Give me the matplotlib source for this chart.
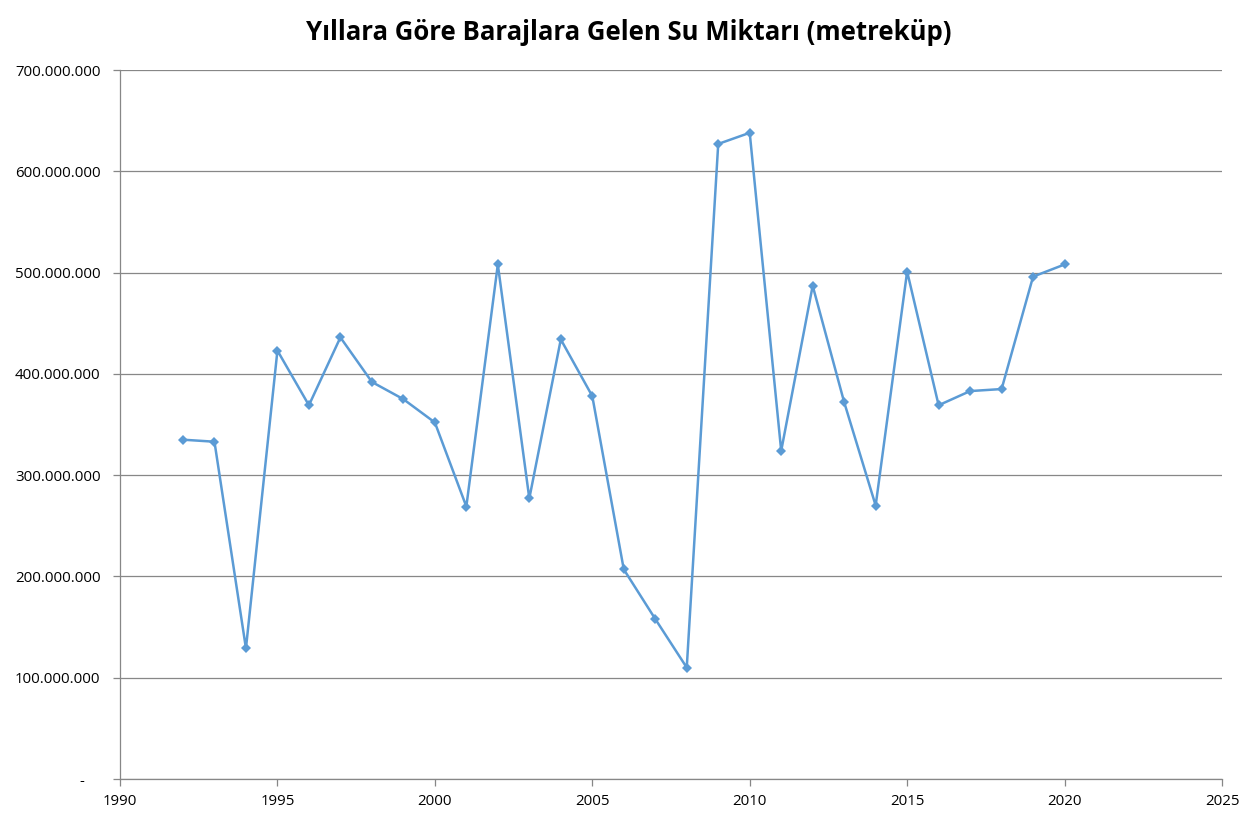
import matplotlib
matplotlib.use("Agg")
import matplotlib.pyplot as plt
from matplotlib.ticker import FuncFormatter, MultipleLocator

years = [1992, 1993, 1994, 1995, 1996, 1997, 1998, 1999, 2000, 2001,
         2002, 2003, 2004, 2005, 2006, 2007, 2008, 2009, 2010, 2011,
         2012, 2013, 2014, 2015, 2016, 2017, 2018, 2019, 2020]
water = [335e6, 333e6, 129e6, 423e6, 369e6, 436e6, 392e6, 375e6, 352e6, 269e6,
         508e6, 277e6, 434e6, 378e6, 207e6, 158e6, 110e6, 627e6, 638e6, 324e6,
         487e6, 372e6, 270e6, 501e6, 369e6, 383e6, 385e6, 496e6, 508e6]
title = "Yıllara Göre Barajlara Gelen Su Miktarı (metreküp)"

plt.rcParams['font.family'] = ['Open Sans', 'DejaVu Sans']

W, H = 1257, 822
fig = plt.figure(figsize=(W / 100, H / 100), dpi=100)
ax = fig.add_axes([120 / W, (H - 779) / H, (1222 - 120) / W, (779 - 70) / H])

ax.plot(years, water, color='#5B9BD5', lw=1.8, marker='D', markersize=5.5,
        markeredgewidth=0, zorder=3)

ax.set_xlim(1990, 2025)
ax.set_ylim(0, 700e6)
ax.xaxis.set_major_locator(MultipleLocator(5))
ax.yaxis.set_major_locator(MultipleLocator(100e6))

def yfmt(v, pos):
    if abs(v) < 1:
        return "-    "
    return f"{int(round(v)):,}".replace(",", ".")

ax.yaxis.set_major_formatter(FuncFormatter(yfmt))
ax.grid(axis='y', color='#878787', lw=0.9)
ax.set_axisbelow(True)
for s in ['top', 'right']:
    ax.spines[s].set_visible(False)
for s in ['left', 'bottom']:
    ax.spines[s].set_color('#878787')
    ax.spines[s].set_linewidth(0.9)
ax.tick_params(axis='both', colors='#878787', length=5, width=0.9,
               labelcolor='black', labelsize=10.8)
ax.tick_params(axis='y', pad=9)
ax.tick_params(axis='x', pad=6)

fig.text(0.5, 1 - 32 / H, title, ha='center', va='center',
         fontsize=18.5, fontweight='bold')

fig.savefig("out.png", dpi=100, facecolor='white')
